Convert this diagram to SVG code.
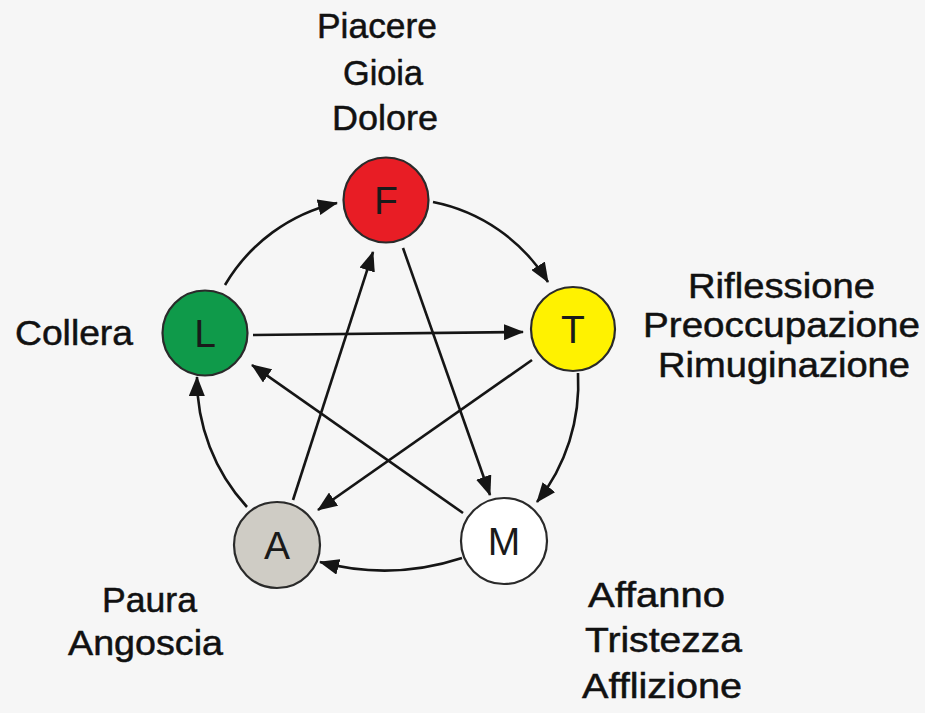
<svg xmlns="http://www.w3.org/2000/svg" width="925" height="713" viewBox="0 0 925 713">
<style>
.lbl{font-family:"Liberation Sans",Arial,sans-serif;font-size:35px;fill:#111;stroke:#111;stroke-width:0.5}
.nl{font-family:"Liberation Sans",Arial,sans-serif;font-size:39px;fill:#1a1a1a;text-anchor:middle}
.node{stroke:#2a2a2a;stroke-width:2.2}
.edge{fill:none;stroke:#151515;stroke-width:2.6;marker-end:url(#ah)}
</style>
<defs>
<marker id="ah" markerUnits="userSpaceOnUse" viewBox="0 0 20 16" refX="19" refY="8" markerWidth="20" markerHeight="16" orient="auto">
<path d="M0,0 L20,8 L0,16 z" fill="#151515"/>
</marker>
</defs>
<rect width="925" height="713" fill="#f6f6f6"/>
<g id="connectors">
<path class="edge" d="M225,285 A175,175 0 0 1 337,203"/>
<path class="edge" d="M433,202 A175,175 0 0 1 548,282"/>
<path class="edge" d="M578,373 A190,190 0 0 1 537,502"/>
<path class="edge" d="M462,558 A250,250 0 0 1 320,562"/>
<path class="edge" d="M247,507 A190,190 0 0 1 197,377"/>
<path class="edge" d="M253,335 L523,332"/>
<path class="edge" d="M293,500 L373,252"/>
<path class="edge" d="M403,248 L490,495"/>
<path class="edge" d="M532,360 L318,510"/>
<path class="edge" d="M463,513 L252,365"/>
</g>
<g id="node-F"><circle class="node" cx="386" cy="200" r="42.5" fill="#e81d25"/><text class="nl" x="386" y="214">F</text></g>
<g id="node-L"><circle class="node" cx="205" cy="333" r="42.5" fill="#0f9a4a"/><text class="nl" x="205" y="347">L</text></g>
<g id="node-T"><circle class="node" cx="573" cy="329" r="42" fill="#fff200"/><text class="nl" x="573" y="343">T</text></g>
<g id="node-A"><circle class="node" cx="277" cy="545" r="43" fill="#cfccc5"/><text class="nl" x="277" y="559">A</text></g>
<g id="node-M"><circle class="node" cx="504" cy="541" r="43" fill="#ffffff"/><text class="nl" x="504" y="555">M</text></g>
<g id="labels">
<text class="lbl" x="317" y="38" textLength="120" lengthAdjust="spacingAndGlyphs">Piacere</text>
<text class="lbl" x="343" y="85" textLength="80" lengthAdjust="spacingAndGlyphs">Gioia</text>
<text class="lbl" x="332" y="130" textLength="106" lengthAdjust="spacingAndGlyphs">Dolore</text>
<text class="lbl" x="688" y="298" textLength="187" lengthAdjust="spacingAndGlyphs">Riflessione</text>
<text class="lbl" x="643" y="337" textLength="277" lengthAdjust="spacingAndGlyphs">Preoccupazione</text>
<text class="lbl" x="658" y="377" textLength="252" lengthAdjust="spacingAndGlyphs">Rimuginazione</text>
<text class="lbl" x="15" y="345" textLength="118" lengthAdjust="spacingAndGlyphs">Collera</text>
<text class="lbl" x="102" y="612" textLength="95" lengthAdjust="spacingAndGlyphs">Paura</text>
<text class="lbl" x="68" y="655" textLength="155" lengthAdjust="spacingAndGlyphs">Angoscia</text>
<text class="lbl" x="588" y="607" textLength="137" lengthAdjust="spacingAndGlyphs">Affanno</text>
<text class="lbl" x="585" y="652" textLength="157" lengthAdjust="spacingAndGlyphs">Tristezza</text>
<text class="lbl" x="582" y="698" textLength="160" lengthAdjust="spacingAndGlyphs">Afflizione</text>
</g>
</svg>
